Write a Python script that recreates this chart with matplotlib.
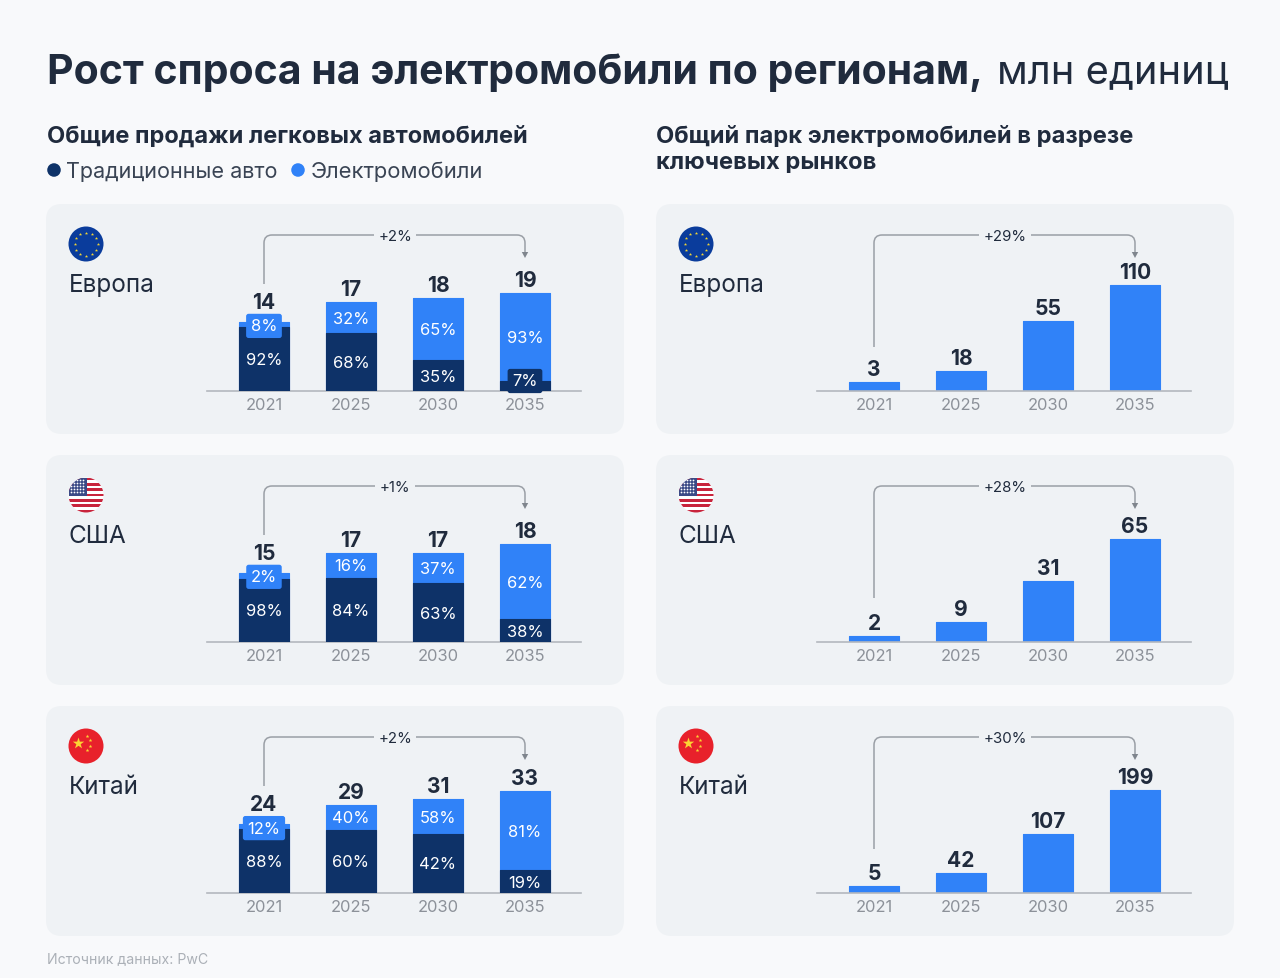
import matplotlib
matplotlib.use('Agg')
import matplotlib.pyplot as plt
from matplotlib.patches import FancyBboxPatch, Circle, Rectangle, Polygon
from matplotlib.path import Path
from matplotlib.patches import PathPatch
import numpy as np

plt.rcParams['font.family'] = ['Inter', 'DejaVu Sans']

W, H = 1280, 979
DARK = '#0e3268'
BLUE = '#3082f8'
INK = '#202b3d'
GREY = '#8c9199'
PANEL = '#eff2f5'
BG = '#f8f9fb'

years = ['2021', '2025', '2030', '2035']
regions = ['Европа', 'США', 'Китай']

# Подписи как на картинке
eu_sales = [14, 17, 18, 19]
us_sales = [15, 17, 17, 18]
cn_sales = [24, 29, 31, 33]
eu_ev_share = [8, 32, 65, 93]
us_ev_share = [2, 16, 37, 62]
cn_ev_share = [12, 40, 58, 81]
eu_old_share = [92, 68, 35, 7]
us_old_share = [98, 84, 63, 38]
cn_old_share = [88, 60, 42, 19]
eu_park = [3, 18, 55, 110]
us_park = [2, 9, 31, 65]
cn_park = [5, 42, 107, 199]
sales_growth = ['+2%', '+1%', '+2%']
park_growth = ['+29%', '+28%', '+30%']

# Высоты столбцов в оригинале не пропорциональны подписям, поэтому они считаны отдельно
eu_sales_bar = [13.4, 17.2, 18.0, 19.0]
us_sales_bar = [12.7, 16.4, 16.4, 18.0]
cn_sales_bar = [22.3, 28.5, 30.4, 33.0]
eu_old_bar = [12.4, 11.2, 6.0, 1.9]
us_old_bar = [11.6, 11.8, 10.8, 4.2]
cn_old_bar = [20.7, 20.4, 19.1, 7.4]
eu_park_bar = [9.3, 20.7, 72.6, 110]
us_park_bar = [3.8, 12.6, 38.5, 65]
cn_park_bar = [13.5, 38.6, 113.9, 199]


def px_axes(fig, x0, y0, x1, y1):
    # y0 - верх, y1 - низ, в пикселях картинки
    return fig.add_axes([x0 / W, 1 - y1 / H, (x1 - x0) / W, (y1 - y0) / H])


def fs(px):
    return px * 0.72


fig = plt.figure(figsize=(W / 100, H / 100), dpi=100, facecolor=BG)
bg = fig.add_axes([0, 0, 1, 1])
bg.set_xlim(0, W)
bg.set_ylim(H, 0)
bg.axis('off')


def bar_axes(x_left, base, ymax):
    ax = px_axes(fig, x_left, base - 165, x_left + 374, base)
    ax.set_xlim(-0.655, 3.644)
    ax.set_ylim(0, ymax)
    ax.patch.set_alpha(0)
    for s in ['top', 'left', 'right']:
        ax.spines[s].set_visible(False)
    ax.spines['bottom'].set_color('#b4b8be')
    ax.spines['bottom'].set_linewidth(1.2)
    ax.set_yticks([])
    ax.set_xticks(range(4))
    ax.set_xticklabels(years, fontsize=fs(16.5), color=GREY)
    ax.tick_params(axis='x', length=0, pad=4.5)
    return ax


def soft_bars(ax, x, heights, color, zorder):
    # тонкая обводка со скруглением дает мягкие углы столбцов
    bars = ax.bar(x, heights, width=0.57, color=color, edgecolor=color, linewidth=0.8, zorder=zorder)
    for b in bars:
        b.set_joinstyle('round')


def draw_sales(x_left, base, ymax, totals, bars, old_bars, ev_share, old_share):
    ax = bar_axes(x_left, base, ymax)
    px = ymax / 165
    x = np.arange(4)
    soft_bars(ax, x, bars, BLUE, 2)
    soft_bars(ax, x, old_bars, DARK, 3)
    for i in x:
        if ev_share[i] < 15:
            ax.text(i, bars[i] - 4 * px, f'{ev_share[i]}%', ha='center', va='center', color='white',
                    fontsize=fs(16.5), zorder=5,
                    bbox=dict(boxstyle='round,pad=0.28,rounding_size=0.15', fc=BLUE, ec='none'))
            top_off = 20
        else:
            ax.text(i, (bars[i] + old_bars[i]) / 2 - 0.5 * px, f'{ev_share[i]}%', ha='center', va='center',
                    color='white', fontsize=fs(16.5), zorder=5)
            top_off = 13
        if old_share[i] < 10:
            ax.text(i, 10 * px, f'{old_share[i]}%', ha='center', va='center', color='white',
                    fontsize=fs(16.5), zorder=5,
                    bbox=dict(boxstyle='round,pad=0.28,rounding_size=0.15', fc=DARK, ec='none'))
        else:
            ax.text(i, old_bars[i] / 2 - 0.5 * px, f'{old_share[i]}%', ha='center', va='center', color='white',
                    fontsize=fs(16.5), zorder=5)
        ax.text(i, bars[i] + top_off * px, str(totals[i]), ha='center', va='center', color=INK,
                fontsize=fs(21), fontweight='bold', clip_on=False)


def draw_park(x_left, base, ymax, totals, bars):
    ax = bar_axes(x_left, base, ymax)
    px = ymax / 165
    soft_bars(ax, range(4), bars, BLUE, 2)
    for i in range(4):
        ax.text(i, bars[i] + 13 * px, str(totals[i]), ha='center', va='center', color=INK,
                fontsize=fs(21), fontweight='bold', clip_on=False)


def bracket(x0, x1, y_bottom, y_top, y_end, label):
    r = 8
    verts = [(x0, y_bottom), (x0, y_top + r), (x0, y_top), (x0 + r, y_top),
             (x1 - r, y_top), (x1, y_top), (x1, y_top + r), (x1, y_end - 5)]
    codes = [Path.MOVETO, Path.LINETO, Path.CURVE3, Path.CURVE3, Path.LINETO, Path.CURVE3, Path.CURVE3, Path.LINETO]
    bg.add_patch(PathPatch(Path(verts, codes), fc='none', ec='#9a9fa6', lw=1.1, zorder=2))
    bg.add_patch(Polygon([(x1 - 3.2, y_end - 6), (x1 + 3.2, y_end - 6), (x1, y_end)], fc='#7f858d', ec='none', zorder=2))
    bg.text((x0 + x1) / 2 + 0.5, y_top + 1, label, ha='center', va='center', fontsize=fs(15), color=INK, zorder=3,
            bbox=dict(boxstyle='square,pad=0.3', fc=PANEL, ec='none'))


def flag(cx, cy, kind):
    r = 17.5
    clip = Circle((cx, cy), r, transform=bg.transData)
    if kind == 'Европа':
        bg.add_patch(Circle((cx, cy), r, fc='#0a3c9c', ec='none', zorder=3))
        a = np.arange(12) * np.pi / 6
        bg.scatter(cx + 11.5 * np.cos(a), cy + 11.5 * np.sin(a), marker='*', s=6, c='#f4d735', linewidths=0, zorder=4)
    elif kind == 'США':
        bg.add_patch(Circle((cx, cy), r, fc='white', ec='none', zorder=3))
        for k in range(7):
            s = Rectangle((cx - r, cy - r + k * 2 * r / 6.5), 2 * r, r / 6.5, fc='#c8243c', ec='none', zorder=4)
            s.set_clip_path(clip)
            bg.add_patch(s)
        c = Rectangle((cx - r, cy - r), r * 1.05, r * 1.08, fc='#3a4a86', ec='none', zorder=5)
        c.set_clip_path(clip)
        bg.add_patch(c)
        xs, ys = np.meshgrid(np.arange(cx - r + 2, cx + r * 0.05 - 1, 3.2), np.arange(cy - r + 2, cy + 0.5, 3.2))
        d = bg.scatter(xs.ravel(), ys.ravel(), s=1.6, c='white', linewidths=0, zorder=6)
        d.set_clip_path(clip)
    else:
        bg.add_patch(Circle((cx, cy), r, fc='#e8212b', ec='none', zorder=3))
        bg.scatter([cx - 8], [cy - 3.5], marker='*', s=75, c='#fbd533', linewidths=0, zorder=4)
        bg.scatter([cx + 0.5, cx + 4, cx + 4, cx + 0.5], [cy - 10, cy - 6, cy + 0, cy + 4], marker='*', s=8,
                   c='#fbd533', linewidths=0, zorder=4)


# Заголовки
bg.text(47, 73, 'Рост спроса на электромобили по регионам,', fontsize=fs(41), fontweight='bold', color=INK,
        ha='left', va='center')
bg.text(997, 73, 'млн единиц', fontsize=fs(39.8), color=INK, ha='left', va='center')
bg.text(47, 137, 'Общие продажи легковых автомобилей', fontsize=fs(23.6), fontweight='bold', color=INK, ha='left', va='center')
bg.text(656, 137, 'Общий парк электромобилей в разрезе', fontsize=fs(23.7), fontweight='bold', color=INK, ha='left', va='center')
bg.text(656, 163, 'ключевых рынков', fontsize=fs(23.7), fontweight='bold', color=INK, ha='left', va='center')
bg.scatter([54, 298], [171, 171], s=95, c=[DARK, BLUE], linewidths=0)
bg.text(66, 172, 'Традиционные авто', fontsize=fs(21.6), color='#3a4454', ha='left', va='center')
bg.text(311, 172, 'Электромобили', fontsize=fs(22), color='#3a4454', ha='left', va='center')
bg.text(47, 959, 'Источник данных: PwC', fontsize=fs(14.1), color='#abb0b7', ha='left', va='center')

tops = [205, 456, 707]
sales = [(eu_sales, eu_sales_bar, eu_old_bar, eu_ev_share, eu_old_share, 32.0),
         (us_sales, us_sales_bar, us_old_bar, us_ev_share, us_old_share, 30.3),
         (cn_sales, cn_sales_bar, cn_old_bar, cn_ev_share, cn_old_share, 53.4)]
parks = [(eu_park, eu_park_bar, 171.0), (us_park, us_park_bar, 104.0), (cn_park, cn_park_bar, 318.6)]

for n, top in enumerate(tops):
    for x0 in (46, 656):
        bg.add_patch(FancyBboxPatch((x0 + 14, top + 14), 578 - 28, 230 - 28, boxstyle='round,pad=14,rounding_size=16',
                                    fc=PANEL, ec='none', zorder=1))
        flag(x0 + 40, top + 40, regions[n])
        bg.text(x0 + 23, top + 81, regions[n], fontsize=fs(24.3), color=INK, ha='left', va='center', zorder=3)
    base = top + 187
    t, b, o, es, os_, ym = sales[n]
    draw_sales(207, base, ym, t, b, o, es, os_)
    t2, b2, ym2 = parks[n]
    draw_park(817, base, ym2, t2, b2)
    bracket(264, 525, top + 80, top + 31, top + 54, sales_growth[n])
    bracket(874, 1135, top + 143, top + 31, top + 54, park_growth[n])

fig.savefig('out.png', dpi=100, facecolor=BG)
